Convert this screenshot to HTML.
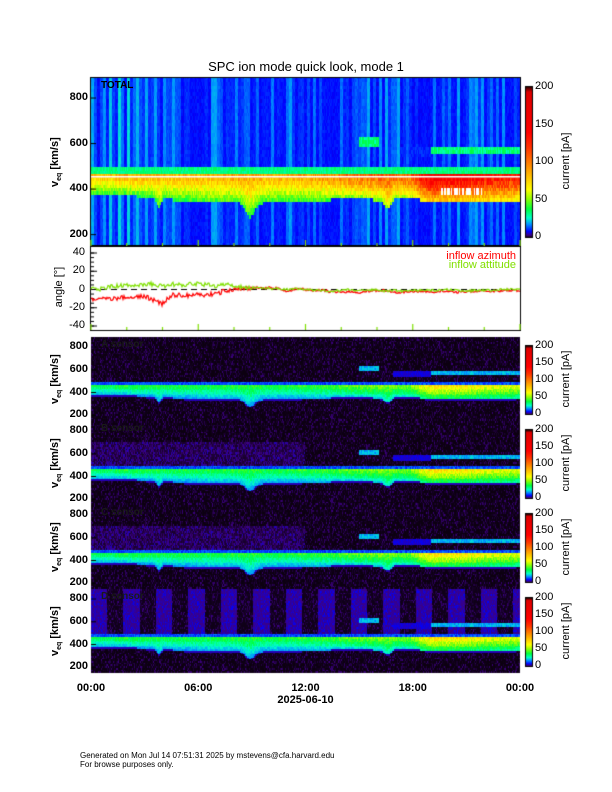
<!DOCTYPE html>
<html><head><meta charset="utf-8"><style>
body{margin:0;background:#fff;width:612px;height:792px;position:relative;overflow:hidden;font-family:"Liberation Sans",sans-serif;}
canvas{position:absolute;display:block}
.t{position:absolute;font-size:11px;color:#000;white-space:nowrap;font-weight:bold}
.tt{position:absolute;font-size:13px;white-space:nowrap}
.rot{position:absolute;transform:rotate(-90deg);transform-origin:center;white-space:nowrap;font-size:11px}
.ft{position:absolute;font-size:8px;left:80px;white-space:nowrap}
</style></head><body>
<div class="tt" style="left:0;width:612px;text-align:center;top:59px">SPC ion mode quick look, mode 1</div>
<canvas id="c" width="612" height="792" style="left:0;top:0"></canvas>
<div id="labels"></div>
<div class="ft" style="top:751px">Generated on Mon Jul 14 07:51:31 2025 by mstevens@cfa.harvard.edu</div>
<div class="ft" style="top:760px">For browse purposes only.</div>
<script>
// ---- data ----
const hours=[0,1,2,3,4,5,6,7,8,9,10,11,12,13,14,15,16,17,18,19,20,21,22,23,24];
const bulkSpeed=[410,408,405,400,390,385,380,375,380,370,375,380,385,385,390,395,385,395,392,380,375,378,380,380,385];
const peakCurrent=[78,78,80,80,78,80,80,82,85,82,80,82,85,88,92,98,100,100,105,150,145,140,135,130,125];
const dipTimes=[3.8,8.9,16.6];
const dipDepths=[45,60,45];
const dipWidths=[0.15,0.35,0.25];
const beamStart=[15.0,16.9,19.0];
const beamEnd=[16.1,19.0,24.0];
const beamSpeed=[610,560,570];
const beamCurrent=[25,8,25];
const angleTimes=[0,0.5,1,1.5,2,2.5,3,3.5,4,4.5,5,5.5,6,6.5,7,7.5,8,8.5,9,9.5,10,10.5,11,11.5,12,12.5,13,13.5,14,14.5,15,15.5,16,16.5,17,17.5,18,18.5,19,19.5,20,20.5,21,21.5,22,22.5,23,23.5,24];
const azimuth=[-12,-9,-10,-10,-8,-9,-7,-12,-16,-6,-6,-7,-5,-6,-4,-2,0,1,2,2,2,1,-2,1,0,-1,-1,-3,-3,-2,-3,-2,-1,-1,-3,-3,-2,-2,-3,-2,-2,-3,-2,-2,-2,-2,-1,-1,-1];
const attitude=[2,0,3,4,5,4,5,6,3,6,5,6,6,5,4,5,4,3,2,2,1,1,0,1,0,-1,-1,-2,-1,0,-1,-1,0,-2,-1,-2,-1,-1,-1,-1,0,-1,-2,-1,-1,-1,0,0,0];
const xTicks=["00:00","06:00","12:00","18:00","00:00"];
const vTicks=[200,400,600,800];
const aTicks=[-40,-20,0,20,40];
const cbTicks=[0,50,100,150,200];
const panelNames=["TOTAL","A sensor","B sensor","C sensor","D sensor"];

// ---- layout ----
const X0=91,X1=520,VMIN=150,VMAX=888;
const panels=[{y0:78,y1:246},{y0:337,y1:421},{y0:421,y1:505},{y0:505,y1:589},{y0:589,y1:673}];
const ang={y0:246,y1:330};
const xOf=t=>X0+(X1-X0)*t/24;
const c=document.getElementById('c'),g=c.getContext('2d');
const L=document.getElementById('labels');
function lab(txt,x,y,name,cls,extra){const d=document.createElement('div');d.className=cls||'t';d.textContent=txt;d.style.left=x+'px';d.style.top=y+'px';if(extra)d.style.cssText+=extra;


L.appendChild(d);return d;}
function h(i,j){let n=(i*374761393+j*668265263)>>>0;n=((n^(n>>>13))*1274126177)>>>0;return ((n^(n>>>16))>>>0)/4294967295;}
function interp(xs,ys,t){for(let i=0;i<xs.length-1;i++){if(t<=xs[i+1]){const f=(t-xs[i])/(xs[i+1]-xs[i]);return ys[i]+(ys[i+1]-ys[i])*f;}}return ys[ys.length-1];}
const stops=[[0,[12,0,16]],[0.015,[60,0,130]],[0.04,[0,0,255]],[0.09,[0,150,255]],[0.13,[0,255,200]],[0.19,[0,255,60]],[0.26,[150,255,0]],[0.32,[255,255,0]],[0.45,[255,160,0]],[0.6,[255,50,0]],[0.7,[255,0,0]],[0.97,[220,0,0]],[1,[60,0,0]]];
function cmap(v){let f=Math.max(0,Math.min(1,v/200));for(let i=0;i<stops.length-1;i++){if(f<=stops[i+1][0]){const a=stops[i],b=stops[i+1],k=(f-a[0])/(b[0]-a[0]);return [0,1,2].map(q=>Math.round(a[1][q]+(b[1][q]-a[1][q])*k));}}return stops[stops.length-1][1];}
function speedAt(t){let s=interp(hours,bulkSpeed,t);for(let i=0;i<dipTimes.length;i++){const d=(t-dipTimes[i])/dipWidths[i];s-=dipDepths[i]*Math.exp(-d*d);}return s;}
function value(p,t,v,col,vb){
  const s=speedAt(t),amp=interp(hours,peakCurrent,t)*(p==0?1:0.45);
  const nz=h(col,vb),cn=h(Math.floor(col/3),999);
  let bg;
  if(p==0)bg=7+cn*cn*11+nz*3+(t<3?cn*4:0);
  else{bg=Math.pow(nz,4)*3;
    if((p==2||p==3)&&v>480&&v<700&&t<12)bg+=nz*2+0.6;
    if(p==4&&v>470){const blk=Math.floor(t*1.1);bg+=(blk%2==0?3+nz*2:0.2);}
  }
  let val=bg;
  const lo=s-35,hi=460;
  if(v>=lo&&v<=hi){const f=(v-lo)/(hi-lo);val=Math.max(val,amp*(0.5+0.6*f)*(0.85+0.3*nz));}
  else if(v>hi&&v<500){val=Math.max(val,(p==0?28:9)+nz*8);}
  else if(v<lo&&v>lo-(p==0?25:12)){val=Math.max(val,p==0?9:5);}
  for(let i=0;i<beamStart.length;i++){if(t>=beamStart[i]&&t<=beamEnd[i]&&Math.abs(v-beamSpeed[i])<22){val=Math.max(val,beamCurrent[i]*(p==0?1.3:0.8)*(0.8+0.4*nz));}}
  return val;
}
panels.forEach((P,p)=>{
  const H=P.y1-P.y0,W=X1-X0,img=g.createImageData(W,H);
  for(let r=0;r<H;r++){const v=VMAX-(VMAX-VMIN)*(r+0.5)/H;const vb=Math.floor(v/15);const vq=vb*15+7;
    for(let col=0;col<W;col++){const t=24*(col+0.5)/W;let val=value(p,t,vq,col,vb);
      let rgb=cmap(val);
      if(p==0&&t>19.5&&t<22&&vq>370&&vq<405&&h(col,7)>0.5)rgb=[255,255,255];
      const k=(r*W+col)*4;img.data[k]=rgb[0];img.data[k+1]=rgb[1];img.data[k+2]=rgb[2];img.data[k+3]=255;}}
  g.putImageData(img,X0,P.y0);
  const yv=v=>P.y0+(VMAX-v)/(VMAX-VMIN)*H;
  if(p==0){g.fillStyle='#fff';g.fillRect(X0,Math.round(yv(458)),X1-X0,1.5);}
  g.strokeStyle='#000';g.lineWidth=1;
  if(p==0)g.strokeRect(X0-0.5,P.y0-0.5,W+1,H+1);
  vTicks.forEach(v=>{const y=yv(v);lab(String(v),60,y-7,'y-tick-'+v+'-p'+p,'t','width:28px;text-align:right');
    g.beginPath();g.moveTo(X0,y);g.lineTo(X0+5,y);g.stroke();});
  lab(panelNames[p],X0+10,P.y0+2,'panel-label-'+p,'t','font-size:10px;color:'+(p==0?'#000':'#1a1a1a'));
  const rl=lab('v',0,0,'y-axis-title-'+p,'rot','font-weight:bold');rl.innerHTML='v<sub style="font-size:7px">eq</sub> [km/s]';
  rl.style.left=(56-30)+'px';rl.style.top=(P.y0+H/2-7)+'px';rl.style.width='60px';rl.style.textAlign='center';
  const cy0=p==0?87:P.y0+9,cy1=p==0?237:P.y0+77;
  for(let y=cy0;y<cy1;y++){const val=200*(cy1-y)/(cy1-cy0);const rgb=cmap(val);g.fillStyle=`rgb(${rgb})`;g.fillRect(526,y,6,1);}
  g.strokeRect(525.5,cy0-0.5,7,cy1-cy0+1);
  cbTicks.forEach(v=>{const y=cy1-(cy1-cy0)*v/200;lab(String(v),535,y-7,'colorbar-tick-'+v+'-p'+p,'t','font-weight:normal');});
  const cl=lab('current [pA]',0,0,'colorbar-title-'+p,'rot','font-weight:normal');cl.style.width='80px';cl.style.textAlign='center';
  cl.style.left=(566-40)+'px';cl.style.top=((cy0+cy1)/2-7)+'px';
});
g.strokeStyle='#000';g.lineWidth=1;g.strokeRect(X0-0.5,ang.y0-0.5,X1-X0+1,ang.y1-ang.y0+1);
const ya=a=>289.5-a*(73/80);
aTicks.forEach(a=>{const y=ya(a);lab(String(a),55,y-7,'angle-tick-'+a,'t','width:30px;text-align:right;font-weight:normal');g.beginPath();g.moveTo(X0,y);g.lineTo(X0+6,y);g.stroke();});
for(let a=-40;a<=40;a+=5){g.beginPath();g.moveTo(X0,ya(a));g.lineTo(X0+3,ya(a));g.stroke();}
g.setLineDash([6,4]);g.beginPath();g.moveTo(X0,ya(0));g.lineTo(X1,ya(0));g.stroke();g.setLineDash([]);
const al=lab('angle [°]',0,0,'angle-axis-title','rot','font-weight:normal');al.style.width='60px';al.style.textAlign='center';al.style.left=(59-30)+'px';al.style.top=(288-7)+'px';
function series(arr,color,seed){g.strokeStyle=color;g.lineWidth=1.2;g.beginPath();
  for(let px=0;px<=X1-X0;px++){const t=24*px/(X1-X0);const a=interp(angleTimes,arr,t)+(h(px,seed)-0.5)*(t<9?5:2.5);const y=ya(a);px?g.lineTo(X0+px,y):g.moveTo(X0,y);}g.stroke();}
series(azimuth,'#ff0000',11);series(attitude,'#7fe000',23);
lab('inflow azimuth',420,250,'legend-azimuth','t','color:#ff0000;font-weight:normal;width:96px;text-align:right');
lab('inflow attitude',420,259,'legend-attitude','t','color:#80e000;font-weight:normal;width:96px;text-align:right');
xTicks.forEach((s,i)=>{const x=xOf(i*6);lab(s,x-18,682,'x-tick-'+i,'t','width:36px;text-align:center');});
for(let t=0;t<=24;t+=2){[panels[0],ang].forEach(P=>{g.beginPath();g.moveTo(xOf(t),P.y1);g.lineTo(xOf(t),P.y1-(t%6?3:6));g.stroke();});}
lab('2025-06-10',xOf(12)-35,694,'x-axis-date','t','width:70px;text-align:center');
</script>
</body></html>
